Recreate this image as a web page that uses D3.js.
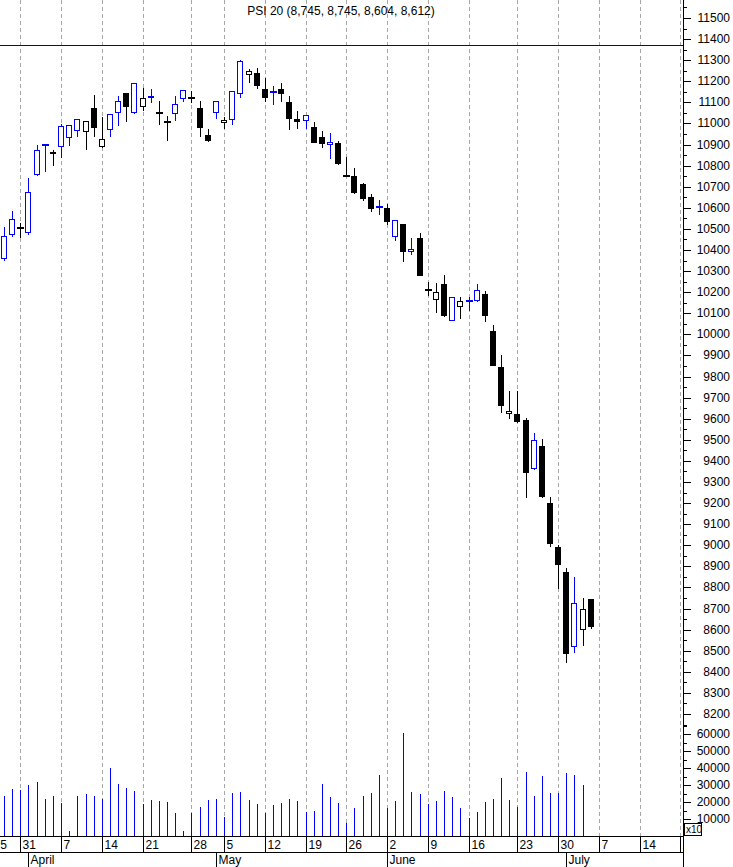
<!DOCTYPE html>
<html><head><meta charset="utf-8">
<script src="https://cdn.jsdelivr.net/npm/d3@7"></script>
<style>
html,body{margin:0;padding:0;background:#fff;overflow:hidden}
svg{display:block;font-family:"Liberation Sans",Arial,sans-serif}
</style></head><body>
<svg id="chart" width="733" height="867"></svg>
<script>
const title = "PSI 20 (8,745, 8,745, 8,604, 8,612)";
const opens  = [10359,10470,10510,10479,10754,10898,10866,10887,10930,10964,10960,11073,10887,10968,11048,11144,11048,11079,11119,11050,11007,11043,11117,11124,11073,10945,11048,11001,11015,11138,11230,11238,11163,11146,11163,11102,11021,11013,10983,10934,10899,10909,10753,10751,10713,10651,10601,10599,10463,10523,10389,10457,10212,10161,10239,10065,10128,10158,10157,10191,10016,9845,9624,9622,9594,9360,9471,9200,8992,8873,8516,8597,8745];
const highs  = [10510,10585,10527,10743,10898,10902,10874,10997,10993,11022,11014,11135,11032,11045,11132,11146,11192,11167,11162,11106,11035,11130,11159,11155,11106,10974,11108,11032,11154,11301,11257,11262,11214,11178,11190,11130,11059,11041,11007,10964,10953,10918,10842,10787,10719,10666,10637,10618,10544,10525,10455,10479,10247,10242,10281,10178,10176,10179,10239,10204,10044,9902,9731,9731,9605,9534,9504,9230,9000,8892,8850,8750,8745];
const lows   = [10348,10460,10455,10469,10750,10771,10800,10835,10895,10934,10874,10937,10885,10937,10988,11008,11045,11060,11096,10993,10918,11013,11103,11096,10937,10913,11020,10972,10991,11119,11193,11162,11103,11088,11103,10969,10974,10972,10905,10885,10833,10803,10745,10666,10634,10582,10567,10519,10444,10345,10378,10276,10183,10103,10084,10063,10073,10112,10155,10057,9848,9629,9600,9578,9226,9358,9226,8993,8793,8443,8491,8524,8604];
const closes = [10466,10546,10503,10674,10874,10900,10854,10987,10991,11020,11012,10980,10925,11043,11108,11079,11190,11122,11132,11046,11003,11091,11157,11120,10980,10918,11106,11016,11152,11296,11249,11179,11122,11149,11138,11023,11008,11039,10909,10903,10912,10808,10749,10672,10643,10596,10603,10534,10542,10392,10403,10278,10208,10202,10087,10176,10158,10161,10209,10088,9850,9660,9637,9586,9344,9498,9230,9006,8908,8484,8726,8696,8612];
const volumes = [23500,27600,27100,30000,31800,21800,23500,19400,3000,23500,24700,23500,21800,40000,30600,28200,26500,19000,21200,20600,20000,13500,3000,13500,17100,21200,21800,11200,25300,25900,21200,18800,13500,18200,19400,21800,20600,14100,14700,30600,22900,19400,7600,16500,23500,25300,35900,16500,20600,60400,25900,24700,18800,20600,26500,22900,16500,10600,14100,20000,21800,34100,21200,17100,37600,23500,35300,25300,25300,37100,35900,30000,0];
const weekTickIndex = [-1.6,2,7,12,17,23,27,32,37,42,47,52,57,63,68,73,78,83];
const weekLabels = ["25","31","7","14","21","28","5","12","19","26","2","9","16","23","30","7","14","21"];
const monthTickIndex = [3,26,47,69];
const monthLabels = ["April","May","June","July"];
const priceLabelValues = d3.range(8200, 11501, 100);
const volumeLabelValues = d3.range(10000, 60001, 10000);
const refLevel = 11372;

const svg = d3.select("#chart");
const AX = 683;       // right axis x
const BASE = 836;     // x-axis top
const BLUE = "#0000ff";

const x = d3.scaleLinear().domain([0, 72]).range([4, 590.8]);
const y = d3.scaleLinear().domain([8200, 11500]).range([714, 18]);
const yv = d3.scaleLinear().domain([0, 60000]).range([BASE, 734]);

const bars = opens.map((o, i) => ({
  i, o, h: highs[i], l: lows[i], c: closes[i], v: volumes[i],
  up: i === 0 ? true : closes[i] >= closes[i - 1]
}));

svg.append("defs").append("clipPath").attr("id", "plotclip")
  .append("rect").attr("x", 0).attr("y", 0).attr("width", AX).attr("height", 867);

// gridlines
svg.append("g").selectAll("line").data(weekTickIndex.filter(t => x(t) > 0)).join("line")
  .attr("x1", d => Math.round(x(d)) + 0.5).attr("x2", d => Math.round(x(d)) + 0.5)
  .attr("y1", 0).attr("y2", BASE)
  .attr("stroke", "#a8a8a8").attr("stroke-width", 1).attr("stroke-dasharray", "4,3");

// reference horizontal line
svg.append("line").attr("x1", 0).attr("x2", AX).attr("y1", Math.round(y(refLevel)) + 0.5).attr("y2", Math.round(y(refLevel)) + 0.5)
  .attr("stroke", "#0000c0").attr("stroke-width", 1);

// title
svg.append("text").attr("x", 341).attr("y", 15).attr("text-anchor", "middle")
  .attr("font-size", 12).attr("fill", "#000").text(title);

// volume bars
svg.append("g").selectAll("rect").data(bars.filter(d => d.v > 0)).join("rect")
  .attr("x", d => Math.round(x(d.i))).attr("width", 1)
  .attr("y", d => Math.round(yv(d.v))).attr("height", d => BASE - Math.round(yv(d.v)))
  .attr("fill", BLUE);

// candles
const cg = svg.append("g");
bars.forEach(d => {
  const col = d.up ? BLUE : "#000";
  const cx = Math.round(x(d.i));
  cg.append("line").attr("x1", cx + 0.5).attr("x2", cx + 0.5)
    .attr("y1", Math.round(y(d.h))).attr("y2", Math.round(y(d.l)))
    .attr("stroke", col).attr("stroke-width", 1);
  const top = Math.round(y(Math.max(d.o, d.c)));
  const bot = Math.round(y(Math.min(d.o, d.c)));
  if (bot - top < 2) {
    const mid = Math.round(y((d.o + d.c) / 2));
    cg.append("rect").attr("x", cx - 3).attr("y", mid - 1).attr("width", 7).attr("height", 2).attr("fill", col);
  } else if (d.c < d.o) {
    cg.append("rect").attr("x", cx - 3).attr("y", top).attr("width", 6).attr("height", bot - top).attr("fill", col);
  } else {
    cg.append("rect").attr("x", cx - 2.5).attr("y", top + 0.5).attr("width", 5).attr("height", bot - top - 1)
      .attr("fill", "#fff").attr("stroke", col).attr("stroke-width", 1);
  }
});

// right axis
svg.append("line").attr("x1", AX + 0.5).attr("x2", AX + 0.5).attr("y1", 0).attr("y2", 867).attr("stroke", "#000");
const ag = svg.append("g");
d3.range(8150, 11600, 50).forEach(v => {
  const yy = Math.round(y(v)) + 0.5;
  const major = v % 100 === 0;
  ag.append("line").attr("x1", AX).attr("x2", AX + (major ? 8 : 4)).attr("y1", yy).attr("y2", yy).attr("stroke", "#000");
});
priceLabelValues.forEach(v => {
  ag.append("text").attr("x", 730).attr("y", Math.round(y(v)) + 4).attr("text-anchor", "end")
    .attr("font-size", 12).text(v);
});
d3.range(5000, 65001, 5000).forEach(v => {
  const yy = Math.round(yv(v)) + 0.5;
  const major = v % 10000 === 0;
  ag.append("line").attr("x1", AX).attr("x2", AX + (major ? 8 : 4)).attr("y1", yy).attr("y2", yy).attr("stroke", "#000");
});
volumeLabelValues.forEach(v => {
  ag.append("text").attr("x", 730).attr("y", Math.round(yv(v)) + 4).attr("text-anchor", "end")
    .attr("font-size", 12).text(v);
});
// x10 box
ag.append("rect").attr("x", 684.5).attr("y", 823.5).attr("width", 17).attr("height", 12)
  .attr("fill", "#fff").attr("stroke", "#000");
ag.append("text").attr("x", 686).attr("y", 833).attr("font-size", 10).text("x10");

// bottom axis
const bg = svg.append("g").attr("clip-path", "url(#plotclip)");
bg.append("line").attr("x1", 0).attr("x2", AX).attr("y1", BASE + 0.5).attr("y2", BASE + 0.5).attr("stroke", "#000");
bg.append("line").attr("x1", 0).attr("x2", AX).attr("y1", 852.5).attr("y2", 852.5).attr("stroke", "#000");
weekTickIndex.forEach((t, k) => {
  const xx = Math.round(x(t)) + 0.5;
  bg.append("line").attr("x1", xx).attr("x2", xx).attr("y1", BASE).attr("y2", 852).attr("stroke", "#000");
  bg.append("text").attr("x", xx + 2).attr("y", 849).attr("font-size", 12).text(weekLabels[k]);
});
monthTickIndex.forEach((t, k) => {
  const xx = Math.round(x(t)) + 0.5;
  bg.append("line").attr("x1", xx).attr("x2", xx).attr("y1", 852).attr("y2", 867).attr("stroke", "#000");
  bg.append("text").attr("x", xx + 2).attr("y", 864).attr("font-size", 12).text(monthLabels[k]);
});
</script>
</body></html>
